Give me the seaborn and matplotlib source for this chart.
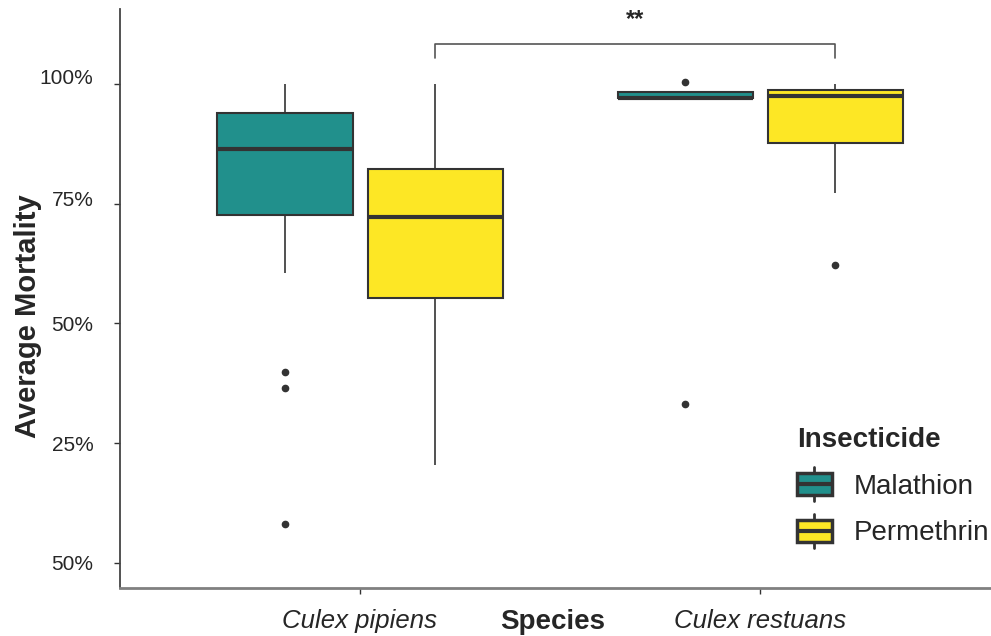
import numpy as np
import pandas as pd
import matplotlib
matplotlib.use("Agg")
import matplotlib.pyplot as plt
import matplotlib.transforms as mtransforms
from matplotlib.patches import Rectangle, Patch
from matplotlib.lines import Line2D
from matplotlib.legend_handler import HandlerBase
import seaborn as sns

# mortality (%) per replicate
species = ["Culex pipiens", "Culex restuans"]
insecticides = ["Malathion", "Permethrin"]
pipiens_malathion = [8.1, 36.6, 39.9, 60.5, 72.6, 78, 82, 84, 86.4, 89, 91, 93, 93.9, 96, 98, 100, 100]
pipiens_permethrin = [20.4, 40, 55.4, 65, 72.2, 78, 82.2, 92, 100]
restuans_malathion = [33.2, 97.0, 97.0, 97.0, 97.0, 97.6, 98.3, 98.3, 100.4]
restuans_permethrin = [62.2, 77.3, 87.7, 94, 97.6, 98.2, 98.7, 99.5, 100]

ytick_vals = [0, 25, 50, 75, 100]
ytick_labels = ["50%", "25%", "50%", "75%", "100%"]
signif = "**"

groups = {
    ("Culex pipiens", "Malathion"): pipiens_malathion,
    ("Culex pipiens", "Permethrin"): pipiens_permethrin,
    ("Culex restuans", "Malathion"): restuans_malathion,
    ("Culex restuans", "Permethrin"): restuans_permethrin,
}
rows = []
for (sp, ins), vals in groups.items():
    for v in vals:
        rows.append({"Species": sp, "Insecticide": ins, "Mortality": v})
df = pd.DataFrame(rows)

EDGE = "#333333"
colors = {"Malathion": "#21908C", "Permethrin": "#FDE725"}

sns.set_style("white")
plt.rcParams["font.family"] = ["Liberation Sans", "DejaVu Sans"]

fig = plt.figure(figsize=(9.91, 6.36), dpi=100)
ax = fig.add_axes([120 / 991, 48 / 636, 871 / 991, 579 / 636])

box_w = 0.75
sns.boxplot(data=df, x="Species", y="Mortality", hue="Insecticide",
            order=species, hue_order=insecticides, palette=colors, saturation=1,
            width=box_w, gap=0.1, linecolor=EDGE, linewidth=1.5,
            showcaps=False, legend=False,
            medianprops=dict(color=EDGE, linewidth=3),
            whiskerprops=dict(color=EDGE, linewidth=1.2),
            flierprops=dict(marker="o", markersize=4.5, markerfacecolor=EDGE,
                            markeredgecolor=EDGE),
            ax=ax)

ax.set_xlim(-0.6, 1.5775)
ax.set_ylim(-5.3, 115.7)
ax.set_yticks(ytick_vals)
ax.set_yticklabels(ytick_labels, fontsize=15)
ax.set_xticks(range(len(species)))
ax.set_xticklabels(species, fontsize=18.5, style="italic")

ax.tick_params(axis="y", length=4, width=1, color=EDGE, pad=15, direction="out", left=True)
ax.tick_params(axis="x", length=4, width=1, color=EDGE, pad=11, direction="out", bottom=True)

# the two upper labels sit a little higher in the original
shifts = [0, 0, 0, 5, 8]
for lab, s in zip(ax.get_yticklabels(), shifts):
    lab.set_transform(lab.get_transform() + mtransforms.ScaledTranslation(0, s / 100, fig.dpi_scale_trans))

sns.despine(ax=ax)
ax.spines["left"].set_color("#444444")
ax.spines["left"].set_linewidth(1.3)
ax.spines["bottom"].set_color("#808080")
ax.spines["bottom"].set_linewidth(2)

ax.set_ylabel("Average Mortality", fontsize=21, fontweight="bold")
ax.yaxis.set_label_coords(-0.106, 0.47)
ax.yaxis.label.set_va("center")
ax.set_xlabel("Species", fontsize=20, fontweight="bold")
ax.xaxis.set_label_coords(0.497, -0.058)
ax.xaxis.label.set_va("center")

# significance bracket between the permethrin boxes
off = box_w / 4
x1, x2 = 0 + off, 1 + off
ax.plot([x1, x1, x2, x2], [105.4, 108.3, 108.3, 105.4], color="#555555", lw=1.2)
ax.text((x1 + x2) / 2, 113.6, signif, ha="center", va="center", fontsize=17, fontweight="bold")


class BoxKey(HandlerBase):
    def create_artists(self, legend, orig, xd, yd, w, h, fontsize, trans):
        x0, y0 = -xd, -yd
        box = Rectangle((x0, y0), w, h, facecolor=orig.get_facecolor(),
                        edgecolor=EDGE, lw=2.5, transform=trans)
        med = Line2D([x0, x0 + w], [y0 + h / 2] * 2, color=EDGE, lw=3,
                     solid_capstyle="butt", transform=trans)
        up = Line2D([x0 + w / 2] * 2, [y0 + h, y0 + h + 4], color=EDGE, lw=2, transform=trans)
        dn = Line2D([x0 + w / 2] * 2, [y0, y0 - 4], color=EDGE, lw=2, transform=trans)
        return [box, med, up, dn]


handles = [Patch(facecolor=colors[i], label=i) for i in insecticides]
leg = ax.legend(handles=handles, title="Insecticide", loc="upper left",
                bbox_to_anchor=(783 / 991, 1 - 413 / 636), bbox_transform=fig.transFigure,
                frameon=False, fontsize=20, title_fontproperties={"weight": "bold", "size": 20},
                handler_map={Patch: BoxKey()}, handlelength=1.26, handleheight=0.86,
                handletextpad=0.8, labelspacing=0.72, borderpad=0, alignment="left")

fig.savefig("out.png", dpi=100)
